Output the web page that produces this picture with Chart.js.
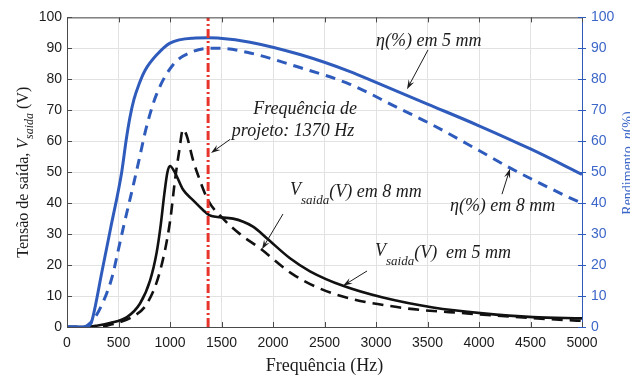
<!DOCTYPE html>
<html>
<head>
<meta charset="utf-8">
<script src="https://cdn.jsdelivr.net/npm/chart.js@4.4.1/dist/chart.umd.min.js"></script>
<style>
html, body { margin: 0; padding: 0; background: #fff; }
</style>
</head>
<body>
<canvas id="chart" width="630" height="377"></canvas>
<script>
// eficiencia (%) - eixo direito
const freqEta5 = [0, 175, 230, 252, 340, 424, 531, 575, 610, 650, 700, 760, 874, 1000, 1223, 1370, 1485, 1777, 2262, 2748, 3000, 3500, 4000, 4500, 5000];
const etaAt5 = [0, 0, 1, 3.3, 18, 32, 50, 60.5, 67.5, 73.5, 78.5, 83, 88, 91.7, 93.3, 93.4, 93.3, 92, 88, 82.5, 79, 72, 65, 57.5, 49.3];
const freqEta8 = [0, 150, 200, 260, 350, 437, 495, 544, 650, 693, 773, 870, 1032, 1226, 1388, 1485, 1777, 2262, 2748, 3200, 3524, 4000, 4300, 4910, 5000];
const etaAt8 = [0, 0, 0.6, 2.5, 8, 16, 24.4, 31.7, 46.7, 53, 64.8, 75.2, 84.8, 89, 90, 90, 88.5, 83.8, 78.4, 71, 65.7, 57, 51.4, 41.3, 40];

// tensao de saida (V) - eixo esquerdo
const freqVolt5 = [0, 175, 300, 417, 582, 709, 806, 870, 910, 945, 975, 1000, 1049, 1126, 1223, 1320, 1388, 1612, 1806, 1942, 2165, 2359, 2680, 3068, 3553, 4039, 4524, 5000];
const voltAt5 = [0, 0, 0.5, 1.3, 3.2, 7.6, 15, 24, 33, 43, 50, 52, 49.8, 44.4, 41, 37.8, 36, 35, 32.4, 28.6, 22.2, 18, 13.3, 9.5, 6.3, 4.4, 3.2, 2.8];
const freqVolt8 = [0, 300, 450, 631, 777, 903, 1000, 1049, 1090, 1126, 1160, 1223, 1262, 1369, 1515, 1680, 1874, 2194, 2583, 3233, 3883, 4854, 5000];
const voltAt8 = [0, 0, 1, 3.2, 7.6, 18, 34, 47.6, 57, 63.8, 62, 54, 50, 41, 35, 30, 25.4, 17, 10.8, 6.3, 4.4, 2.2, 2];

const designFreq = 1370;
const xMax = 5000;
const xStep = 500;
const yMax = 100;
const yStep = 10;

const blue = "#2f5cbc";
const blueText = "#3c66c8";
const ink = "#1c1c1c";
const serif = "'Liberation Serif', 'DejaVu Serif', serif";

function toPoints(xs, ys) {
const pts = [];
for (let i = 0; i < xs.length; i++) {
pts.push({ x: xs[i], y: ys[i] });
}
return pts;
}

function drawParts(ctx, parts, x, y, align) {
let total = 0;
for (let i = 0; i < parts.length; i++) {
ctx.font = parts[i][1];
total += ctx.measureText(parts[i][0]).width;
}
let cx = x;
if (align === "center") {
cx = x - total / 2;
}
ctx.textAlign = "left";
ctx.textBaseline = "middle";
for (let i = 0; i < parts.length; i++) {
ctx.font = parts[i][1];
ctx.fillText(parts[i][0], cx, y + (parts[i][2] || 0));
cx += ctx.measureText(parts[i][0]).width;
}
}

function drawArrow(ctx, x1, y1, x2, y2) {
const ang = Math.atan2(y2 - y1, x2 - x1);
const len = 10;
const spread = 0.32;
ctx.beginPath();
ctx.moveTo(x1, y1);
ctx.lineTo(x2 - Math.cos(ang) * 4, y2 - Math.sin(ang) * 4);
ctx.lineWidth = 1;
ctx.strokeStyle = ink;
ctx.stroke();
ctx.beginPath();
ctx.moveTo(x2, y2);
ctx.lineTo(x2 - len * Math.cos(ang - spread), y2 - len * Math.sin(ang - spread));
ctx.lineTo(x2 - 6 * Math.cos(ang), y2 - 6 * Math.sin(ang));
ctx.lineTo(x2 - len * Math.cos(ang + spread), y2 - len * Math.sin(ang + spread));
ctx.closePath();
ctx.fillStyle = ink;
ctx.fill();
}

const decorPlugin = {
id: "decor",
afterDatasetsDraw(chart) {
const ctx = chart.ctx;
const xs = chart.scales.x;
const ys = chart.scales.y;
const area = chart.chartArea;
const px = f => xs.getPixelForValue(f);
const py = v => ys.getPixelForValue(v);
ctx.save();

// moldura + ticks internos
ctx.lineWidth = 1;
ctx.strokeStyle = "#4a4a4a";
ctx.beginPath();
ctx.moveTo(area.left, area.top + 0.5);
ctx.lineTo(area.right, area.top + 0.5);
ctx.stroke();
for (let f = 0; f <= xMax; f += xStep) {
const x = Math.round(px(f)) + 0.5;
ctx.beginPath();
ctx.moveTo(x, area.bottom);
ctx.lineTo(x, area.bottom - 5);
ctx.moveTo(x, area.top);
ctx.lineTo(x, area.top + 5);
ctx.stroke();
}
for (let v = 0; v <= yMax; v += yStep) {
const y = Math.round(py(v)) + 0.5;
ctx.strokeStyle = "#4a4a4a";
ctx.beginPath();
ctx.moveTo(area.left, y);
ctx.lineTo(area.left + 5, y);
ctx.stroke();
ctx.strokeStyle = blue;
ctx.beginPath();
ctx.moveTo(area.right - 4, y);
ctx.lineTo(area.right + 4, y);
ctx.stroke();
}

// anotacoes
ctx.fillStyle = ink;
const it = "italic 18px " + serif;
const sub = "italic 13px " + serif;
drawParts(ctx, [["η(%) em 5 mm", it]], px(3000), py(92.4), "left");
drawParts(ctx, [["Frequência de", it]], px(2311), py(70.2), "center");
drawParts(ctx, [["projeto: 1370 Hz", it]], px(2194), py(63.2), "center");
drawParts(ctx, [["V", it, -2], ["saida", sub, 8], ["(V) em 8 mm", it]], px(2165), py(43.5), "left");
drawParts(ctx, [["V", it, -2], ["saida", sub, 8], ["(V)  em 5 mm", it]], px(2990), py(23.8), "left");
drawParts(ctx, [["η(%) em 8 mm", it]], px(3718), py(39), "left");

drawArrow(ctx, px(3505), py(89.5), px(3301), py(76.8));
drawArrow(ctx, px(1583), py(60.6), px(1398), py(56.2));
drawArrow(ctx, px(2097), py(36.5), px(1893), py(25.1));
drawArrow(ctx, px(2913), py(18.1), px(2680), py(13.3));
drawArrow(ctx, px(4223), py(42.9), px(4301), py(51.1));

// titulos dos eixos
ctx.fillStyle = ink;
drawParts(ctx, [["Frequência (Hz)", "18px " + serif]], (area.left + area.right) / 2, 366, "center");

ctx.save();
ctx.translate(24, (area.top + area.bottom) / 2);
ctx.rotate(-Math.PI / 2);
drawParts(ctx, [["Tensão de saída, ", "16px " + serif], ["V", "italic 16px " + serif], ["saida", "italic 12px " + serif, 6], [" (V)", "16px " + serif]], 0, 0, "center");
ctx.restore();

ctx.save();
ctx.translate(628, 163);
ctx.rotate(-Math.PI / 2);
ctx.fillStyle = blueText;
drawParts(ctx, [["Rendimento, ", "14px " + serif], ["η", "italic 14px " + serif], ["(%)", "14px " + serif]], 0, 0, "center");
ctx.restore();

ctx.restore();
}
};

const tickFont = { family: "'Liberation Sans', Arial, sans-serif", size: 14 };

new Chart(document.getElementById("chart"), {
type: "line",
data: {
datasets: [
{
label: "Frequência de projeto",
data: toPoints([designFreq, designFreq], [0, yMax]),
yAxisID: "y",
borderColor: "#e8352c",
borderWidth: 3,
borderDash: [9, 3, 2, 3],
pointRadius: 0,
order: 0
},
{
label: "η(%) em 5 mm",
data: toPoints(freqEta5, etaAt5),
yAxisID: "y1",
borderColor: blue,
borderWidth: 3,
cubicInterpolationMode: "monotone",
pointRadius: 0,
order: 1
},
{
label: "η(%) em 8 mm",
data: toPoints(freqEta8, etaAt8),
yAxisID: "y1",
borderColor: blue,
borderWidth: 3,
borderDash: [10, 7],
cubicInterpolationMode: "monotone",
pointRadius: 0,
order: 1
},
{
label: "Vsaida(V) em 5 mm",
data: toPoints(freqVolt5, voltAt5),
yAxisID: "y",
borderColor: "#111",
borderWidth: 2.6,
cubicInterpolationMode: "monotone",
pointRadius: 0,
order: 1
},
{
label: "Vsaida(V) em 8 mm",
data: toPoints(freqVolt8, voltAt8),
yAxisID: "y",
borderColor: "#111",
borderWidth: 2.6,
borderDash: [11, 7],
cubicInterpolationMode: "monotone",
pointRadius: 0,
order: 1
}
]
},
options: {
responsive: false,
animation: false,
layout: {
padding: { top: 12, left: 0, right: 0, bottom: 0 }
},
plugins: {
legend: { display: false },
tooltip: { enabled: false }
},
scales: {
x: {
type: "linear",
min: 0,
max: xMax,
afterFit: s => { s.height = 50; },
border: { color: "#4a4a4a" },
grid: { color: "#e2e2e2", drawTicks: false },
ticks: { stepSize: xStep, color: ink, font: tickFont, padding: 8, maxRotation: 0, callback: v => String(v) }
},
y: {
position: "left",
min: 0,
max: yMax,
afterFit: s => { s.width = 67; },
border: { color: "#4a4a4a" },
grid: { color: "#e2e2e2", drawTicks: false },
ticks: { stepSize: yStep, color: ink, font: tickFont, padding: 5 }
},
y1: {
position: "right",
min: 0,
max: yMax,
afterFit: s => { s.width = 48; },
border: { color: blue },
grid: { display: false, drawTicks: false },
ticks: { stepSize: yStep, color: blueText, font: tickFont, padding: 9 }
}
}
},
plugins: [decorPlugin]
});
</script>
</body>
</html>
